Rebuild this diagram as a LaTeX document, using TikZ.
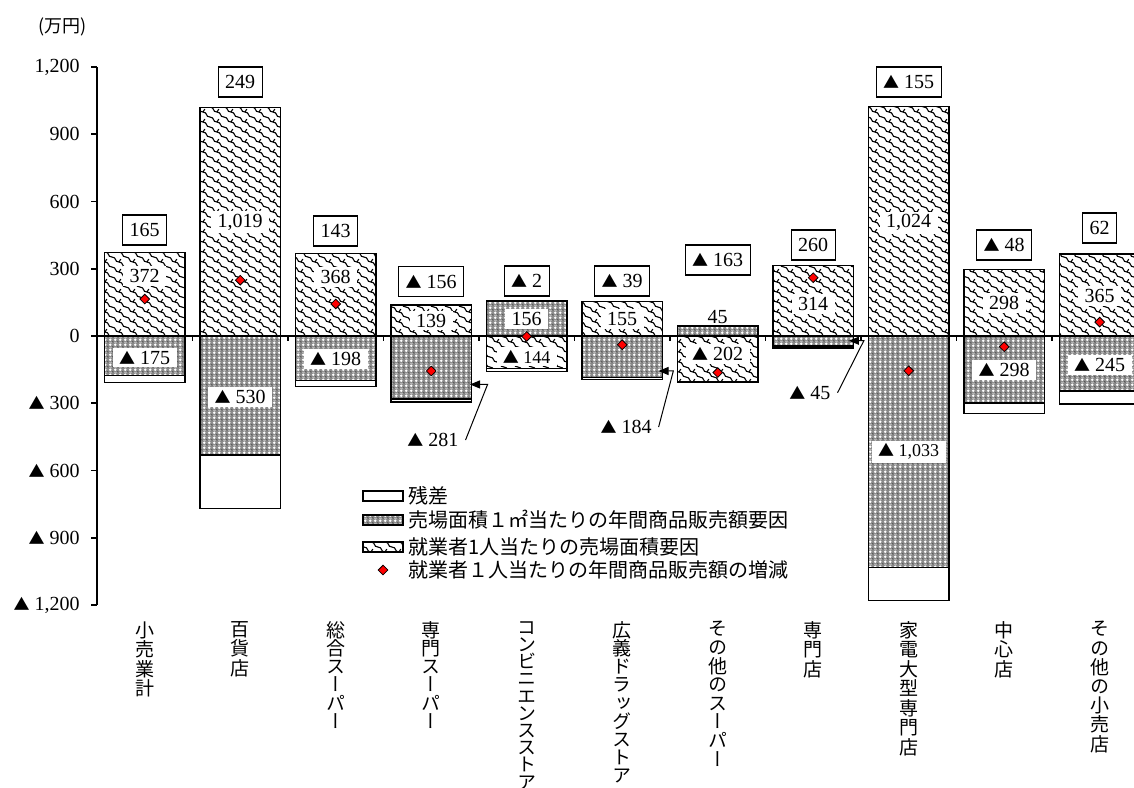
\documentclass[tikz,border=0pt]{standalone}
\usepackage{fontspec}
\setmainfont{Liberation Serif}
\newfontfamily\jp{Noto Sans CJK JP}
\newfontfamily\jpv[RawFeature=+vert]{Noto Sans CJK JP}
\usetikzlibrary{patterns.meta,shapes.geometric,arrows.meta,positioning}

\newcommand\mtri{{\jp\fontsize{8}{8}\selectfont ▲}}
\newcommand\catfont[1]{\jpv\fontsize{9.5}{#1pt}\selectfont\lineskiplimit=-5pt\relax}

\tikzdeclarepattern{
  name=shingle,
  type=uncolored,
  bottom left={(-0.5pt,-0.5pt)},
  top right={(7.5pt,5.5pt)},
  tile size={(7pt,5pt)},
  code={
    \draw[line width=0.55pt] (0pt,5pt) .. controls (2.5pt,5pt) and (1pt,2.5pt) .. (3.5pt,2.5pt)
      .. controls (6pt,2.5pt) and (4.5pt,0pt) .. (7pt,0pt);
    \draw[line width=0.55pt] (3.5pt,2.5pt) .. controls (4.2pt,3.2pt) .. (4.4pt,4pt);
  }
}
\tikzdeclarepattern{
  name=finemesh,
  type=colored,
  bottom left={(0pt,0pt)},
  top right={(2.6pt,2.6pt)},
  tile size={(2.6pt,2.6pt)},
  code={
    \fill[black!45] (0pt,0pt) rectangle (2.6pt,2.6pt);
    \fill[white] (1.3pt,1.3pt) circle (0.8pt);
    \fill[black!75] (0pt,0pt) circle (0.4pt) (2.6pt,0pt) circle (0.4pt)
      (0pt,2.6pt) circle (0.4pt) (2.6pt,2.6pt) circle (0.4pt);
  }
}

\tikzset{
  wavebar/.style={draw, line width=0.7pt, pattern=shingle, pattern color=black},
  meshbar/.style={draw, line width=0.7pt, pattern=finemesh},
  residbar/.style={draw, line width=0.7pt, fill=white},
  totbox/.style={draw, fill=white, line width=0.6pt, inner xsep=3.5pt, minimum height=15pt},
  vallab/.style={fill=white, inner xsep=3.2pt, inner ysep=1.5pt},
  smallval/.style={font=\fontsize{9}{11}\selectfont},
  dmark/.style={diamond, draw, line width=0.4pt, fill=red, inner sep=0pt, minimum size=5pt},
  callout/.style={line width=0.5pt, -{Triangle[length=5pt,width=4pt]}},
  catlab/.style={anchor=north, align=center, inner sep=0pt},
  legtext/.style={anchor=west, inner sep=0pt, font=\jp\fontsize{10}{12}\selectfont},
  legbox/.style={minimum width=20pt, minimum height=5pt, inner sep=0pt},
}

\begin{document}
\begin{tikzpicture}[x=47.75pt, y=0.1121pt]
\useasboundingbox (-1.0157,-2011.6) rectangle (10.859,1498.7);
\fill[white] (-1.0157,-2011.6) rectangle (10.859,1498.7);
\clip (-1.0157,-2011.6) rectangle (10.859,1498.7);

\foreach \c/\wl/\wh/\ml/\mh/\rl/\rh in {
  0.5/0/372/-175/0/-207/-175,
  1.5/0/1019/-530/0/-770/-530,
  2.5/0/368/-198/0/-225/-198,
  3.5/0/139/-281/0/-295/-281,
  4.5/-144/0/0/156/-158/-144,
  5.5/0/155/-184/0/-194/-184,
  6.5/-202/0/0/45/-208/-202,
  7.5/0/314/-45/0/-54/-45,
  8.5/0/1024/-1033/0/-1179/-1033,
  9.5/0/298/-298/0/-346/-298,
  10.5/0/365/-245/0/-303/-245}{
  \draw[wavebar] ({\c-0.42},\wl) rectangle ({\c+0.42},\wh);
  \draw[meshbar] ({\c-0.42},\ml) rectangle ({\c+0.42},\mh);
  \draw[residbar] ({\c-0.42},\rl) rectangle ({\c+0.42},\rh);
}

\draw[line width=1pt] (0,-1200) -- (0,1200);
\draw[line width=1pt] (0,0) -- (11,0);
\foreach \k in {1,...,10}
  \draw[line width=0.6pt] (\k,0) -- ++(0,-2.5pt);
\foreach \v/\t [count=\n] in {1200/{1,200}, 900/900, 600/600, 300/300, 0/0,
    -300/{\mtri\ 300}, -600/{\mtri\ 600}, -900/{\mtri\ 900}, -1200/{\mtri\ 1,200}}{
  \draw[line width=0.8pt] (0,\v) -- ++(-3pt,0);
  \node[anchor=east, inner sep=0pt] (ylab\n) at ([xshift=-8.5pt]0,\v) {\t};
}
\node[font=\jp\fontsize{9}{11}\selectfont, inner sep=0pt] (unit) at (-0.356,1378) {(万円)};

\node[vallab] (w1) at (0.5,268) {372};
\node[vallab] (m1) at (0.5,-97) {\mtri\ 175};
\node[vallab] (w2) at (1.5,508) {1,019};
\node[vallab] (m2) at (1.5,-272) {\mtri\ 530};
\node[vallab] (w3) at (2.5,263) {368};
\node[vallab] (m3) at (2.5,-103) {\mtri\ 198};
\node[vallab] (w4) at (3.5,68) {139};
\node[vallab] (m5) at (4.5,76) {156};
\node[vallab, smallval] (w5) at (4.5,-92) {\mtri\ 144};
\node[vallab] (w6) at (5.5,76) {155};
\node[inner sep=1pt] (m7) at (6.5,85) {45};
\node[vallab] (w7) at (6.5,-80) {\mtri\ 202};
\node[vallab] (w8) at (7.5,143) {314};
\node[vallab] (w9) at (8.5,505) {1,024};
\node[vallab, smallval] (m9) at (8.5,-516) {\mtri\ 1,033};
\node[vallab] (w10) at (9.5,147) {298};
\node[vallab] (m10) at (9.5,-152) {\mtri\ 298};
\node[vallab] (w11) at (10.5,178) {365};
\node[vallab] (m11) at (10.5,-129) {\mtri\ 245};

\foreach \c/\y/\t [count=\n] in {0.5/473/165, 1.5/1133/249, 2.5/468/143,
    3.5/242/{\mtri\ 156}, 4.5/245/{\mtri\ 2}, 5.5/245/{\mtri\ 39}, 6.5/339/{\mtri\ 163},
    7.5/406/260, 8.5/1133/{\mtri\ 155}, 9.5/406/{\mtri\ 48}, 10.5/482/62}
  \node[totbox] (t\n) at (\c,\y) {\t};

\foreach \c/\v [count=\n] in {0.5/165, 1.5/249, 2.5/143, 3.5/-156, 4.5/-2, 5.5/-39,
    6.5/-163, 7.5/260, 8.5/-155, 9.5/-48, 10.5/62}
  \node[dmark] (d\n) at (\c,\v) {};

\node (o4) at (3.518,-464) {\mtri\ 281};
\coordinate (b4) at (4.09,-216);
\coordinate (e4) at (3.906,-216);
\draw[callout] (o4.east) -- (b4) -- (e4);
\node (o6) at (5.54,-406) {\mtri\ 184};
\coordinate (b6) at (6.035,-156);
\coordinate (e6) at (5.88,-156);
\draw[callout] (o6.east) -- (b6) -- (e6);
\node (o8) at (7.466,-253) {\mtri\ 45};
\coordinate (b8) at (8.03,-21);
\coordinate (e8) at (7.874,-21);
\draw[callout] (o8.east) -- (b8) -- (e8);

\node[legbox, residbar] (lg1) at (2.995,-713.6) {};
\node[legbox, meshbar] (lg2) at (2.995,-820.7) {};
\node[legbox, wavebar] (lg3) at (2.995,-941) {};
\node[dmark] (lg4) at (2.995,-1043.7) {};
\node[legtext, right=2pt of lg1] (lt1) {残差};
\node[legtext, right=2pt of lg2] (lt2) {売場面積１㎡当たりの年間商品販売額要因};
\node[legtext, right=2pt of lg3] (lt3) {就業者1人当たりの売場面積要因};
\node[legtext] (lt4) at (lt3.west |- lg4) {就業者１人当たりの年間商品販売額の増減};

\foreach \c/\lsk/\t [count=\n] in {
    0.5/9.75/{小\\売\\業\\計},
    1.5/9.75/{百\\貨\\店},
    2.5/9.1/{総\\合\\ス\\ー\\パ\\ー},
    3.5/9.1/{専\\門\\ス\\ー\\パ\\ー},
    4.5/8.6/{コ\\ン\\ビ\\ニ\\エ\\ン\\ス\\ス\\ト\\ア},
    5.5/9.1/{広\\義\\ド\\ラ\\ッ\\グ\\ス\\ト\\ア},
    6.5/9.3/{そ\\の\\他\\の\\ス\\ー\\パ\\ー},
    7.5/9.75/{専\\門\\店},
    8.5/9.75/{家\\電\\大\\型\\専\\門\\店},
    9.5/9.75/{中\\心\\店},
    10.5/9.6/{そ\\の\\他\\の\\小\\売\\店}}
  \node[catlab, font={\catfont{\lsk}}] (c\n) at (\c,-1271) {\t};
\end{tikzpicture}
\end{document}
